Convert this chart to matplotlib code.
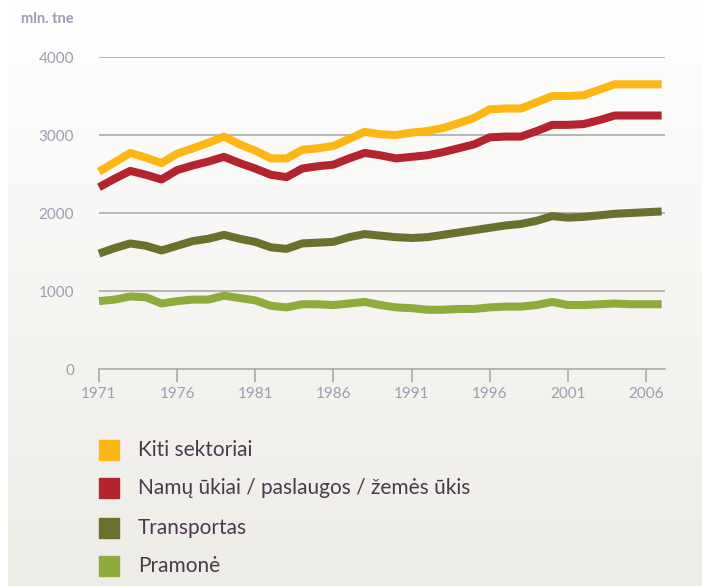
import numpy as np
import matplotlib.pyplot as plt
from matplotlib.patches import Rectangle

years = list(range(1971, 2008))

kiti = [2530, 2650, 2770, 2710, 2640, 2760, 2830, 2900, 2980, 2880,
        2800, 2700, 2700, 2810, 2830, 2860, 2950, 3040, 3010, 3000,
        3030, 3050, 3090, 3150, 3220, 3330, 3340, 3340, 3420, 3500,
        3500, 3510, 3580, 3650, 3650, 3650, 3650]
namu = [2330, 2440, 2540, 2490, 2430, 2550, 2610, 2660, 2720, 2640,
        2570, 2490, 2460, 2570, 2600, 2620, 2700, 2770, 2740, 2700,
        2720, 2740, 2780, 2830, 2880, 2970, 2980, 2980, 3050, 3130,
        3130, 3140, 3190, 3250, 3250, 3250, 3250]
transportas = [1480, 1550, 1610, 1580, 1520, 1580, 1640, 1670, 1720, 1670,
               1630, 1560, 1540, 1610, 1620, 1630, 1690, 1730, 1710, 1690,
               1680, 1690, 1720, 1750, 1780, 1810, 1840, 1860, 1900, 1960,
               1940, 1950, 1970, 1990, 2000, 2010, 2020]
pramone = [870, 890, 930, 920, 840, 870, 890, 890, 940, 910,
           880, 810, 790, 830, 830, 820, 840, 860, 820, 790,
           780, 760, 760, 770, 770, 790, 800, 800, 820, 860,
           820, 820, 830, 840, 830, 830, 830]

labels = ['Kiti sektoriai', 'Namų ūkiai / paslaugos / žemės ūkis',
          'Transportas', 'Pramonė']
colors = ['#fdb714', '#b3242e', '#6a712f', '#8fab3b']
series = [kiti, namu, transportas, pramone]

xticks = [1971, 1976, 1981, 1986, 1991, 1996, 2001, 2006]
yticks = [0, 1000, 2000, 3000, 4000]

plt.rcParams['font.family'] = ['Lato', 'DejaVu Sans']

fig = plt.figure(figsize=(7.02, 5.86), dpi=100)

# background gradient
bg = fig.add_axes([0.011, 0, 0.989, 1], zorder=-10)
grad = np.linspace(0, 1, 256).reshape(-1, 1)
c_top = np.array([1.0, 1.0, 1.0])
c_bot = np.array([0.93, 0.925, 0.905])
img = c_top + (c_bot - c_top) * grad[:, :, None] * np.ones((1, 2, 1))
bg.imshow(img, aspect='auto', extent=[0, 1, 0, 1])
bg.axis('off')

ax = fig.add_axes([0.141, 0.3703, 0.806, 0.5324])
ax.patch.set_alpha(0)

for s, c in zip(series, colors):
    ax.plot(years, s, color=c, lw=5.8, solid_capstyle='butt',
            solid_joinstyle='round', clip_on=False, zorder=3)

ax.set_xlim(1971, 2007.2)
ax.set_ylim(0, 4000)
ax.set_yticks(yticks)
ax.set_xticks(xticks)
for y in yticks[1:]:
    ax.axhline(y, color='#b0b0b0', lw=1.3, zorder=1)

for sp in ['top', 'right', 'left']:
    ax.spines[sp].set_visible(False)
ax.spines['bottom'].set_color('#b0b0b0')
ax.spines['bottom'].set_linewidth(1.3)
ax.tick_params(axis='x', length=9, width=1.3, color='#b0b0b0',
               labelcolor='#a09cb0', labelsize=11, pad=4)
ax.tick_params(axis='y', length=0, labelcolor='#a09cb0', labelsize=11, pad=18)

fig.text(0.03, 0.968, 'mln. tne', color='#a09cb0', fontsize=10.5,
         fontweight='bold', va='center')

# legend
ys = [450, 488, 528, 566]
for lab, c, yp in zip(labels, colors, ys):
    fig.add_artist(Rectangle((99 / 702, 1 - (yp + 10) / 586), 20 / 702, 20 / 586,
                             transform=fig.transFigure, color=c))
    fig.text(138 / 702, 1 - yp / 586, lab, color='#4a3a4c', fontsize=15,
             va='center', ha='left')

fig.savefig('out.png', dpi=100)
